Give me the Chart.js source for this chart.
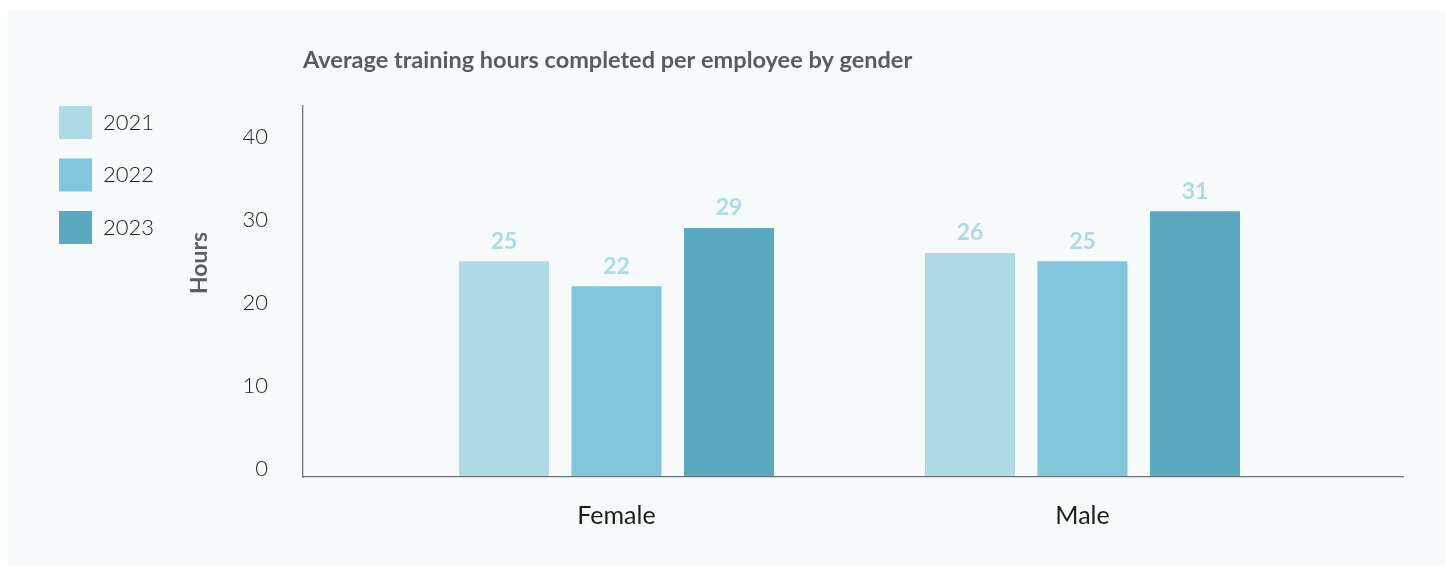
<!DOCTYPE html>
<html>
<head>
<meta charset="utf-8">
<script src="https://cdn.jsdelivr.net/npm/chart.js@4"></script>
<style>
    html, body { margin: 0; padding: 0; background: #ffffff; }
    .panel {
        position: absolute;
        left: 8px;
        top: 11px;
        width: 1437px;
        height: 555px;
        background: #f6fafb;
    }
</style>
</head>
<body>
<div class="panel"><canvas id="barChart" width="1437" height="555"></canvas></div>
<script>
const categories = ['Female', 'Male'];
const years = ['2021', '2022', '2023'];
const hours2021 = [25, 26];
const hours2022 = [22, 25];
const hours2023 = [29, 31];
const yTicks = [0, 10, 20, 30, 40];

const colors = ['#aedbe6', '#82c6dc', '#5aa9c0'];
const yMin = -0.96;

document.addEventListener('DOMContentLoaded', () => {

    // value labels above the bars
    const valueLabels = {
        id: 'valueLabels',
        afterDatasetsDraw(chart) {
            const ctx = chart.ctx;
            ctx.save();
            ctx.font = 'bold 23px Lato';
            ctx.fillStyle = '#acdbe6';
            ctx.textAlign = 'center';
            ctx.textBaseline = 'middle';
            chart.data.datasets.forEach((ds, i) => {
                chart.getDatasetMeta(i).data.forEach((bar, j) => {
                    ctx.fillText(ds.data[j].y, bar.x, bar.y - 20);
                });
            });
            ctx.restore();
        }
    };

    // rotated "Hours" axis title
    const hoursTitle = {
        id: 'hoursTitle',
        afterDraw(chart) {
            const ctx = chart.ctx;
            const area = chart.chartArea;
            ctx.save();
            ctx.translate(area.left - 103, area.top + 157);
            ctx.rotate(-Math.PI / 2);
            ctx.font = 'bold 23px Lato';
            ctx.fillStyle = '#595f64';
            ctx.textAlign = 'center';
            ctx.textBaseline = 'middle';
            ctx.fillText('Hours', 0, 0);
            ctx.restore();
        }
    };

    const series = [hours2021, hours2022, hours2023];

    const ctxBar = document.getElementById('barChart').getContext('2d');
    const barChart = new Chart(ctxBar, {
        type: 'bar',
        data: {
            datasets: years.map((year, k) => ({
                label: year,
                data: categories.map((c, i) => ({ x: i + 1, y: series[k][i] })),
                backgroundColor: colors[k],
                borderWidth: 0,
                base: yMin,
                categoryPercentage: 0.7243,
                barPercentage: 0.8
            }))
        },
        options: {
            responsive: false,
            animation: false,
            layout: {
                padding: { left: 31.5, right: 42, top: 20, bottom: 35 }
            },
            scales: {
                x: {
                    type: 'linear',
                    offset: false,
                    min: 0.3273,
                    max: 2.6878,
                    afterBuildTicks: (scale) => {
                        scale.ticks = categories.map((c, i) => ({ value: i + 1 }));
                    },
                    afterFit: (scale) => {
                        scale.height = 54;
                    },
                    grid: { display: false, drawTicks: false },
                    border: { display: true, color: '#6e7377', width: 1.3, z: 1 },
                    ticks: {
                        padding: 24,
                        maxRotation: 0,
                        color: '#1c1c1c',
                        font: { family: 'Lato', size: 25 },
                        callback: (v) => categories[v - 1] ?? ''
                    }
                },
                y: {
                    min: yMin,
                    max: 43.67,
                    afterBuildTicks: (scale) => {
                        scale.ticks = yTicks.map(v => ({ value: v }));
                    },
                    afterFit: (scale) => {
                        scale.width = 295 - 31.5 - scale.chart.legend.width;
                    },
                    grid: { display: false, drawTicks: false },
                    border: { display: true, color: '#6e7377', width: 1.3, z: 1 },
                    ticks: {
                        padding: 35,
                        color: '#222222',
                        font: { family: 'Lato', size: 22, weight: 300 }
                    }
                }
            },
            plugins: {
                tooltip: { enabled: false },
                title: {
                    display: true,
                    text: 'Average training hours completed per employee by gender',
                    position: 'top',
                    align: 'start',
                    fullSize: false,
                    color: '#575c61',
                    font: { family: 'Lato', size: 23.5, weight: 'bold' },
                    padding: { top: 15.5, bottom: 31.3 }
                },
                legend: {
                    display: true,
                    position: 'left',
                    align: 'start',
                    title: {
                        display: true,
                        text: '',
                        font: { size: 10, lineHeight: 1 },
                        padding: { top: 45.5, bottom: 0 }
                    },
                    labels: {
                        boxWidth: 33,
                        boxHeight: 33,
                        padding: 19.5,
                        color: '#222222',
                        font: { family: 'Lato', size: 22, weight: 300 }
                    }
                }
            }
        },
        plugins: [valueLabels, hoursTitle]
    });
});
</script>
</body>
</html>
